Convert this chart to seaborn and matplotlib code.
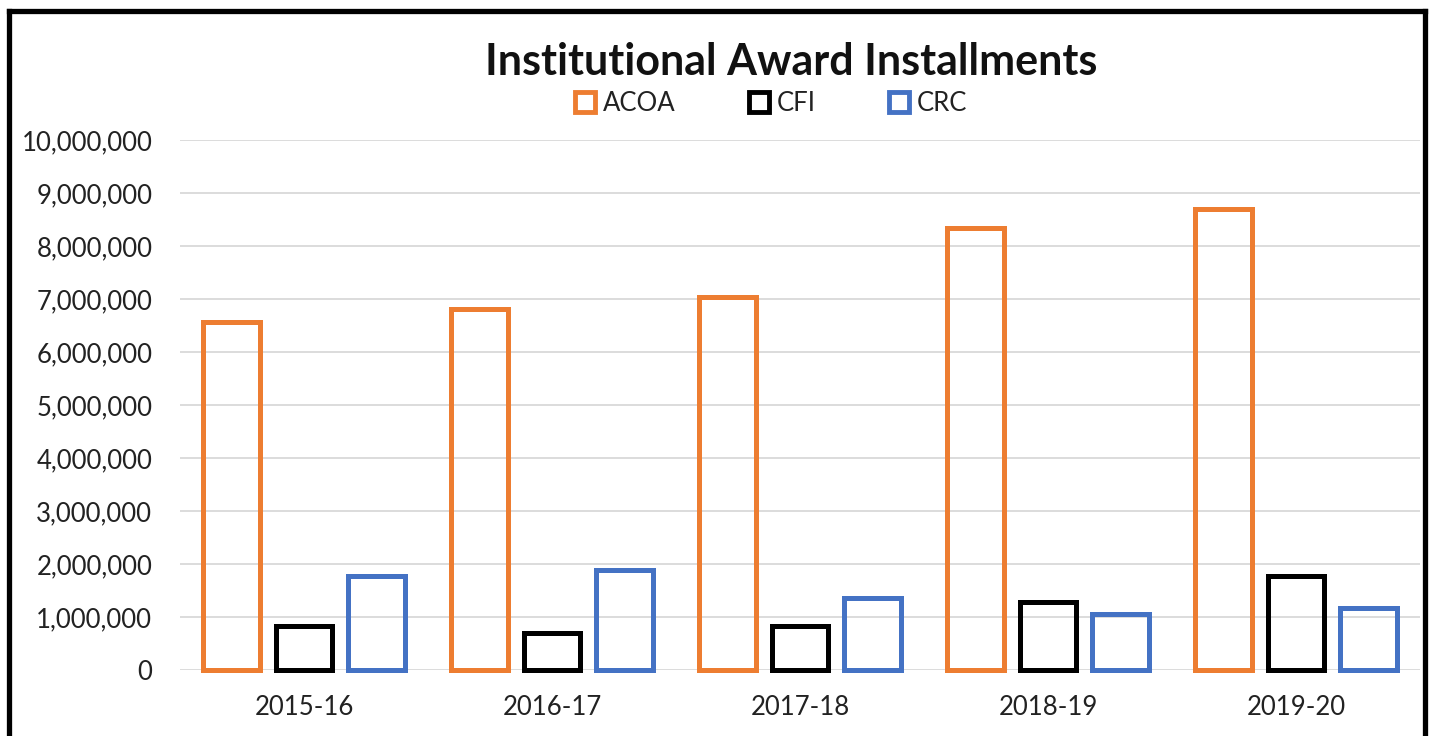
import pandas as pd
import seaborn as sns
import numpy as np
import matplotlib.pyplot as plt
from matplotlib.lines import Line2D
from matplotlib.ticker import FuncFormatter

# values
years = ['2015-16', '2016-17', '2017-18', '2018-19', '2019-20']
acoa = [6570000, 6810000, 7040000, 8340000, 8700000]
cfi = [830000, 700000, 830000, 1280000, 1770000]
crc = [1770000, 1890000, 1360000, 1060000, 1170000]
sources = ['ACOA', 'CFI', 'CRC']
colors = {'ACOA': '#ED7D31', 'CFI': '#000000', 'CRC': '#4472C4'}

df = pd.DataFrame({'year': years * 3,
                   'source': ['ACOA'] * 5 + ['CFI'] * 5 + ['CRC'] * 5,
                   'amount': acoa + cfi + crc})

sns.set_style('white')
plt.rcParams['font.family'] = ['Lato', 'DejaVu Sans']

fig = plt.figure(figsize=(14.29, 7.36), dpi=100)
ax = fig.add_axes([0.126, 0.0897, 0.8677, 0.7201])

sns.barplot(data=df, x='year', y='amount', hue='source', hue_order=sources,
            palette=colors, fill=False, linewidth=3.6, width=0.88, gap=0.22,
            legend=False, ax=ax)
for p in ax.patches:
    p.set_clip_on(False)  # keep the full bottom outline

ax.set_xlim(-0.5, 4.5)
ax.set_ylim(0, 10000000)
ax.set_yticks(np.arange(0, 10000001, 1000000))
ax.yaxis.set_major_formatter(FuncFormatter(lambda v, p: '{:,.0f}'.format(v)))
ax.set_axisbelow(True)
ax.grid(axis='y', color='#d9d9d9', linewidth=1.3)
for s in ax.spines.values():
    s.set_visible(False)
ax.tick_params(axis='y', length=0, pad=20, labelsize=18.5, labelcolor='#222222')
ax.tick_params(axis='x', length=0, pad=18, labelsize=18.5, labelcolor='#222222')
ax.set_xlabel('')
ax.set_ylabel('')

fig.text(0.5535, 0.9158, 'Institutional Award Installments', ha='center', va='center',
         fontsize=31, fontweight='bold', color='#111111')

handles = [Line2D([], [], linestyle='none', marker='s', markersize=14,
                  markerfacecolor='white', markeredgecolor=colors[s],
                  markeredgewidth=3.5, label=s) for s in sources]
fig.legend(handles=handles, loc='center', bbox_to_anchor=(0.539, 0.859), ncol=3,
           frameon=False, fontsize=18.5, handlelength=0.9, handletextpad=0.25,
           columnspacing=2.8, labelcolor='#222222')

# thick frame around the chart (bottom edge is cut off in the image)
frame_kw = dict(color='black', linewidth=3.8, transform=fig.transFigure, solid_capstyle='projecting')
fig.add_artist(Line2D([0.0066, 0.0066], [0.0, 0.9857], **frame_kw))
fig.add_artist(Line2D([0.0066, 0.9972], [0.9857, 0.9857], **frame_kw))
fig.add_artist(Line2D([0.9972, 0.9972], [0.0, 0.9857], **frame_kw))

fig.savefig('out.png', dpi=100)
